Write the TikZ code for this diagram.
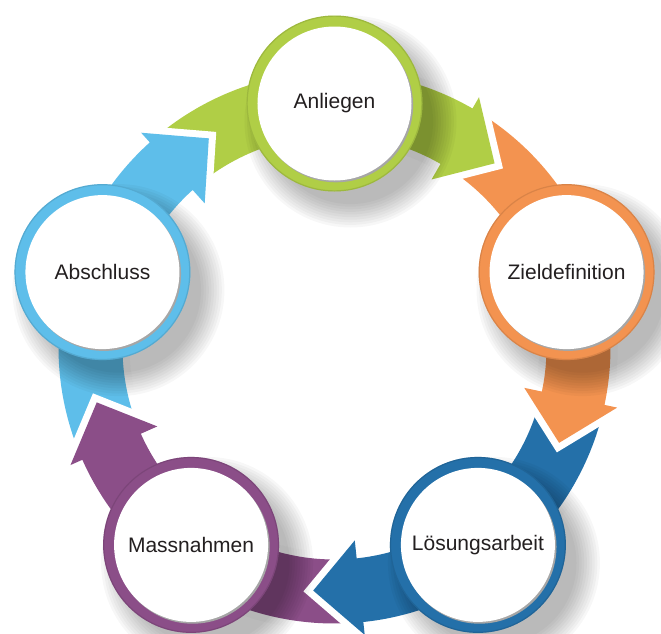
\documentclass[tikz,border=0pt]{standalone}
\usepackage{fontspec}
\setmainfont{Liberation Sans}
\definecolor{cgreen}{HTML}{B0CE46}
\definecolor{corange}{HTML}{F39350}
\definecolor{cdblue}{HTML}{2470A9}
\definecolor{cpurple}{HTML}{8B4E88}
\definecolor{clblue}{HTML}{5EBEEA}
\definecolor{ctext}{HTML}{231F20}
\tikzset{
  halo/.style={preaction={draw=white, line width=14pt, line join=miter}},
  bubtext/.style={circle, fill=white, minimum size=154pt, inner sep=0pt,
    text=ctext, font=\fontsize{21}{25}\selectfont},
}
\newcommand\tailpiece[2]{%
  \fill[#2, halo] ({#1+39}:276) arc[start angle={#1+39}, end angle={#1}, radius=276]
    -- ({#1}:212) arc[start angle={#1}, end angle={#1+39}, radius=212] -- cycle;
}
\newcommand\mainpiece[2]{%
  \fill[#2, halo] ({#1}:276) arc[start angle={#1}, end angle={#1-30}, radius=276]
    -- ({#1-30}:289) -- ({#1-41}:244) -- ({#1-30}:194) -- ({#1-30}:212)
    arc[start angle={#1-30}, end angle={#1}, radius=212] -- cycle;
}
\newcommand\bubback[2]{%
  \begin{scope}[shift={({#1}:244)}]
    \foreach \k in {0,...,9} {
      \fill[black, opacity=0.03] (16,-18) circle ({106-2.6*\k});
    }
    \fill[#2] (0,0) circle (88);
    \draw[#2!70!black, line width=1.2pt, opacity=0.35] (0,0) circle (87.4);
    \fill[black!35] (1.6,-1.8) circle (77);
  \end{scope}
}
\begin{document}
\begin{tikzpicture}[x=1pt,y=1pt]
\useasboundingbox (-334.5,-285.5) rectangle (326.5,347.5);
% tails
\tailpiece{90}{cgreen}
\tailpiece{18}{corange}
\tailpiece{-54}{cdblue}
\tailpiece{-126}{cpurple}
\tailpiece{162}{clblue}
% shafts and heads
\mainpiece{90}{cgreen}
\mainpiece{18}{corange}
\mainpiece{-54}{cdblue}
\mainpiece{-126}{cpurple}
\mainpiece{162}{clblue}
% bubbles
\bubback{90}{cgreen}
\node[bubtext] (anl) at (90:244) {Anliegen};
\bubback{18}{corange}
\node[bubtext] (ziel) at (18:244) {Zieldefinition};
\bubback{-54}{cdblue}
\node[bubtext] (loes) at (-54:244) {Lösungsarbeit};
\bubback{-126}{cpurple}
\node[bubtext] (mass) at (-126:244) {Massnahmen};
\bubback{162}{clblue}
\node[bubtext] (absc) at (162:244) {Abschluss};
\end{tikzpicture}
\end{document}
